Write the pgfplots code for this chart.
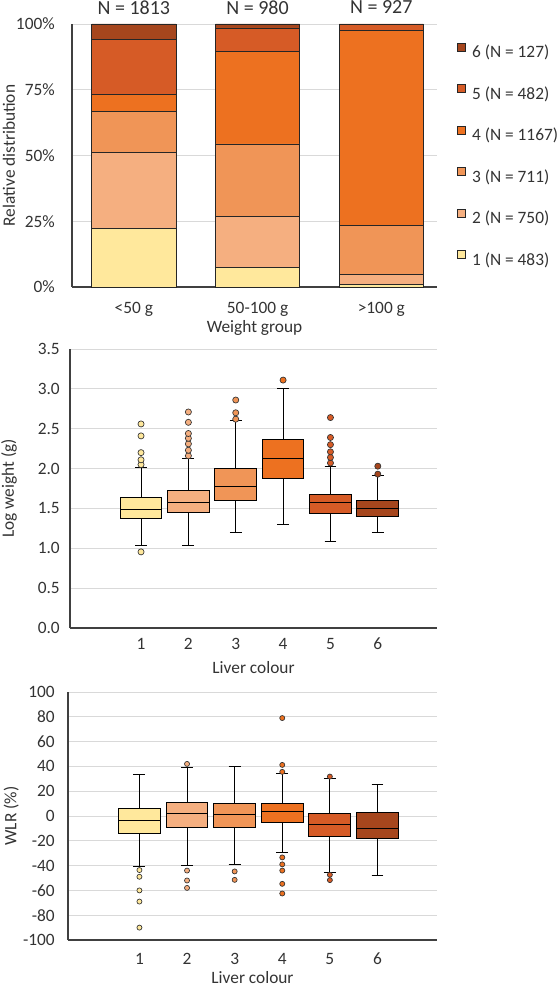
\documentclass[border=0pt]{standalone}
\usepackage{fontspec}
\setmainfont{Carlito}
\usepackage{pgfplots}
\pgfplotsset{compat=1.18}
\usepgfplotslibrary{statistics}
\definecolor{c1}{HTML}{FFE89C}
\definecolor{c2}{HTML}{F5AF80}
\definecolor{c3}{HTML}{F09557}
\definecolor{c4}{HTML}{ED7120}
\definecolor{c5}{HTML}{D65B26}
\definecolor{c6}{HTML}{A6461D}
\definecolor{gridc}{HTML}{D9D9D9}
\definecolor{axc}{HTML}{404040}
\definecolor{txt}{HTML}{333333}
\newcommand{\tf}{\fontsize{13}{15}\selectfont}
\pgfplotsset{
  common/.style={
    scale only axis, clip=false,
    ymajorgrids, grid style={draw=gridc, line width=0.7pt},
    axis x line*=bottom, axis y line*=left,
    axis line style={draw=axc, line width=0.8pt, -},
    major tick length=0pt,
    tick label style={font=\tf, inner sep=0pt, text=txt},
    label style={font=\tf, text=txt},
    /pgf/number format/assume math mode=true,
  },
  boxcommon/.style={
    common,
    xmin=-0.5, xmax=7.25,
    xtick={1,2,3,4,5,6},
    xlabel={Liver colour},
    boxplot/draw direction=y,
    boxplot/box extend=0.88,
    boxplot/whisker extend=0.25,
  },
  lg/.style={legend image code/.code={\draw[fill=#1, draw=black!85, line width=0.6pt] (0pt,1.1pt) rectangle (6pt,7.1pt);}},
}
\begin{document}
\begin{tikzpicture}
\useasboundingbox (0,0) rectangle (417.75pt,-740.25pt);
% ---------------- top: stacked bars
\begin{axis}[
  common,
  at={(54pt,-18pt)}, anchor=north west,
  width=273.75pt, height=197.25pt,
  ybar stacked, bar width=0.68,
  xmin=-0.5, xmax=2.45, ymin=0, ymax=100,
  xtick={0,1,2}, xticklabels={{<50 g},{50-100 g},{>100 g}},
  ytick={0,25,50,75,100}, yticklabels={0\%,25\%,50\%,75\%,100\%},
  yticklabel style={xshift=-12.75pt},
  xticklabel style={yshift=-11pt},
  xlabel={Weight group}, ylabel={Relative distribution},
  xlabel style={at={(axis description cs:0.5,-0.156)}, anchor=center},
  ylabel style={at={(axis description cs:-0.173,0.5)}, anchor=center},
  reverse legend, legend cell align=left,
  legend style={at={(axis description cs:1.0548,0.93)}, anchor=north west,
    draw=none, fill=none, inner sep=0pt, row sep=18.2pt, column sep=4.5pt,
    font=\tf, text=txt, nodes={inner sep=0pt}},
]
\addplot[fill=c1, draw=black!85, line width=0.6pt, lg=c1] coordinates {(0,22.1) (1,7.6) (2,1.0)};
\addlegendentry{1 (N = 483)}
\addplot[fill=c2, draw=black!85, line width=0.6pt, lg=c2] coordinates {(0,29.2) (1,19.3) (2,3.9)};
\addlegendentry{2 (N = 750)}
\addplot[fill=c3, draw=black!85, line width=0.6pt, lg=c3] coordinates {(0,15.6) (1,27.5) (2,18.4)};
\addlegendentry{3 (N = 711)}
\addplot[fill=c4, draw=black!85, line width=0.6pt, lg=c4] coordinates {(0,6.2) (1,35.1) (2,74.2)};
\addlegendentry{4 (N = 1167)}
\addplot[fill=c5, draw=black!85, line width=0.6pt, lg=c5] coordinates {(0,21.1) (1,9.0) (2,2.5)};
\addlegendentry{5 (N = 482)}
\addplot[fill=c6, draw=black!85, line width=0.6pt, lg=c6] coordinates {(0,5.8) (1,1.5)};
\addlegendentry{6 (N = 127)}
\node[font=\fontsize{15}{17}\selectfont, text=txt, inner sep=0pt, anchor=center, yshift=12.4pt] at (axis cs:0,100) {N = 1813};
\node[font=\fontsize{15}{17}\selectfont, text=txt, inner sep=0pt, anchor=center, yshift=12.4pt] at (axis cs:1,100) {N = 980};
\node[font=\fontsize{15}{17}\selectfont, text=txt, inner sep=0pt, anchor=center, yshift=12.4pt] at (axis cs:2,100) {N = 927};
\end{axis}
% ---------------- middle: log weight
\begin{axis}[
  boxcommon,
  at={(52.5pt,-261.75pt)}, anchor=north west,
  width=275.25pt, height=209.25pt,
  ymin=0, ymax=3.5, ytick={0,0.5,1,1.5,2,2.5,3,3.5},
  yticklabel style={xshift=-7.5pt, /pgf/number format/.cd, fixed, fixed zerofill, precision=1},
  xticklabel style={yshift=-7.5pt},
  ylabel={Log weight (g)},
  xlabel style={at={(axis description cs:0.5,-0.143)}, anchor=center},
  ylabel style={at={(axis description cs:-0.166,0.5)}, anchor=center},
]
\addplot[boxplot prepared={draw position=1, lower whisker=1.04, lower quartile=1.375, median=1.49, upper quartile=1.64, upper whisker=2.01},
  fill=c1, draw=black, line width=0.75pt, mark=*, mark size=2.3pt, mark options={fill=c1, draw=black!80, line width=0.5pt}]
  table[row sep=\\, y index=0] {y\\ 2.05\\ 2.11\\ 2.20\\ 2.41\\ 2.56\\ 0.955\\};
\addplot[boxplot prepared={draw position=2, lower whisker=1.04, lower quartile=1.45, median=1.57, upper quartile=1.73, upper whisker=2.13},
  fill=c2, draw=black, line width=0.75pt, mark=*, mark size=2.3pt, mark options={fill=c2, draw=black!80, line width=0.5pt}]
  table[row sep=\\, y index=0] {y\\ 2.16\\ 2.23\\ 2.31\\ 2.38\\ 2.44\\ 2.58\\ 2.71\\};
\addplot[boxplot prepared={draw position=3, lower whisker=1.20, lower quartile=1.60, median=1.78, upper quartile=2.00, upper whisker=2.60},
  fill=c3, draw=black, line width=0.75pt, mark=*, mark size=2.3pt, mark options={fill=c3, draw=black!80, line width=0.5pt}]
  table[row sep=\\, y index=0] {y\\ 2.62\\ 2.70\\ 2.86\\};
\addplot[boxplot prepared={draw position=4, lower whisker=1.30, lower quartile=1.88, median=2.13, upper quartile=2.37, upper whisker=3.00},
  fill=c4, draw=black, line width=0.75pt, mark=*, mark size=2.3pt, mark options={fill=c4, draw=black!80, line width=0.5pt}]
  table[row sep=\\, y index=0] {y\\ 3.11\\};
\addplot[boxplot prepared={draw position=5, lower whisker=1.08, lower quartile=1.44, median=1.57, upper quartile=1.68, upper whisker=2.03},
  fill=c5, draw=black, line width=0.75pt, mark=*, mark size=2.3pt, mark options={fill=c5, draw=black!80, line width=0.5pt}]
  table[row sep=\\, y index=0] {y\\ 2.07\\ 2.14\\ 2.21\\ 2.30\\ 2.39\\ 2.64\\};
\addplot[boxplot prepared={draw position=6, lower whisker=1.20, lower quartile=1.40, median=1.50, upper quartile=1.60, upper whisker=1.91},
  fill=c6, draw=black, line width=0.75pt, mark=*, mark size=2.3pt, mark options={fill=c6, draw=black!80, line width=0.5pt}]
  table[row sep=\\, y index=0] {y\\ 1.93\\ 2.03\\};
\end{axis}
% ---------------- bottom: WLR
\begin{axis}[
  boxcommon,
  at={(51pt,-519pt)}, anchor=north west,
  width=276.75pt, height=186pt,
  ymin=-100, ymax=100, ytick={-100,-80,-60,-40,-20,0,20,40,60,80,100},
  yticklabel style={xshift=-9.75pt},
  xticklabel style={yshift=-9.5pt},
  ylabel={WLR (\%)},
  xlabel style={at={(axis description cs:0.5,-0.15)}, anchor=center},
  ylabel style={at={(axis description cs:-0.154,0.5)}, anchor=center},
]
\addplot[boxplot prepared={draw position=1, lower whisker=-40.4, lower quartile=-13.8, median=-3.4, upper quartile=6.2, upper whisker=33.6},
  fill=c1, draw=black, line width=0.75pt, mark=*, mark size=1.9pt, mark options={fill=c1, draw=black!80, line width=0.5pt}]
  table[row sep=\\, y index=0] {y\\ -43.6\\ -49\\ -60\\ -69\\ -90\\};
\addplot[boxplot prepared={draw position=2, lower whisker=-39.6, lower quartile=-9.5, median=2.0, upper quartile=10.9, upper whisker=39},
  fill=c2, draw=black, line width=0.75pt, mark=*, mark size=1.9pt, mark options={fill=c2, draw=black!80, line width=0.5pt}]
  table[row sep=\\, y index=0] {y\\ 42\\ -44\\ -52\\ -58\\};
\addplot[boxplot prepared={draw position=3, lower whisker=-39, lower quartile=-9.5, median=1.5, upper quartile=10, upper whisker=39.7},
  fill=c3, draw=black, line width=0.75pt, mark=*, mark size=1.9pt, mark options={fill=c3, draw=black!80, line width=0.5pt}]
  table[row sep=\\, y index=0] {y\\ -44.7\\ -51.5\\};
\addplot[boxplot prepared={draw position=4, lower whisker=-29.1, lower quartile=-5, median=3.4, upper quartile=10, upper whisker=34.2},
  fill=c4, draw=black, line width=0.75pt, mark=*, mark size=1.9pt, mark options={fill=c4, draw=black!80, line width=0.5pt}]
  table[row sep=\\, y index=0] {y\\ 79\\ 41.2\\ 35.6\\ -33.4\\ -39\\ -44\\ -54.7\\ -62.5\\};
\addplot[boxplot prepared={draw position=5, lower whisker=-45.8, lower quartile=-16.9, median=-6.6, upper quartile=2, upper whisker=30},
  fill=c5, draw=black, line width=0.75pt, mark=*, mark size=1.9pt, mark options={fill=c5, draw=black!80, line width=0.5pt}]
  table[row sep=\\, y index=0] {y\\ 31.8\\ -47.4\\ -51.7\\};
\addplot[boxplot prepared={draw position=6, lower whisker=-47.8, lower quartile=-18.1, median=-9.8, upper quartile=2.8, upper whisker=25.5},
  fill=c6, draw=black, line width=0.75pt, mark=none]
  table[row sep=\\, y index=0] {y\\};
\end{axis}
\end{tikzpicture}
\end{document}
